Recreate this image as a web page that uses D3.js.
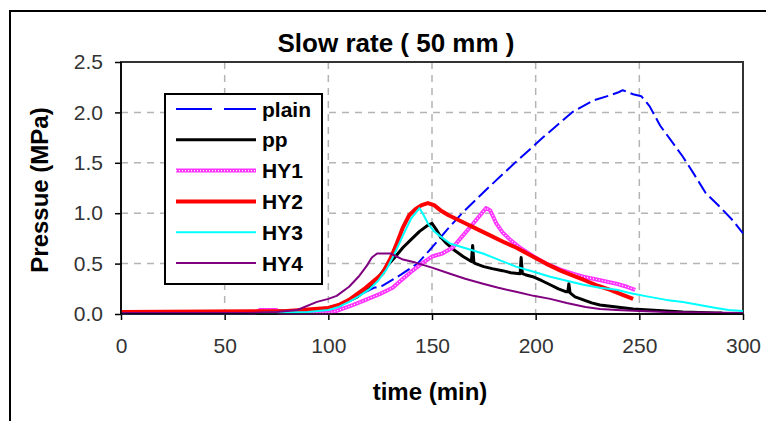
<!DOCTYPE html>
<html lang="en">
<head>
  <meta charset="utf-8">
  <title>Slow rate</title>
  <script src="https://d3js.org/d3.v7.min.js"></script>
  <style>
  body { margin: 0; background: #fff; }
  text { font-family: "Liberation Sans", Arial, sans-serif; }
  .tick text { font-size: 21px; fill: #333; }
  .tick line { stroke: #000; stroke-width: 1.5; }
  .domain { display: none; }
  .grid line { stroke: #b4b4b4; stroke-width: 1.5; stroke-dasharray: 7,6; }
  </style>
</head>
<body>
<script>
var width = 766;
var height = 421;

// data: time (min) and pressure (MPa) per series
var plainT = [0, 60, 90, 100, 106, 112, 118, 122, 126, 135, 143, 150, 157, 164.5, 177, 190, 204, 217.5, 228, 236, 240, 242, 247, 251, 255, 260, 265, 271, 276, 282, 289, 295, 300];
var plainP = [0.01, 0.01, 0.02, 0.04, 0.08, 0.15, 0.22, 0.26, 0.28, 0.39, 0.5, 0.66, 0.83, 1.0, 1.25, 1.5, 1.76, 2.0, 2.12, 2.17, 2.2, 2.22, 2.18, 2.16, 2.06, 1.87, 1.73, 1.56, 1.4, 1.2, 1.06, 0.93, 0.8];

var ppT = [0, 65, 66, 80, 90, 100, 105, 110, 114, 120, 124, 128, 132, 136, 140, 144, 148, 150, 152, 154, 157, 161, 165, 169, 169.6, 170.2, 171, 175, 179, 184, 188, 192.5, 193, 193.6, 195, 198.6, 203, 207, 211, 214.8, 215.5, 216, 216.6, 219, 223, 227, 231, 235, 239, 247, 255, 263, 271, 279, 287, 290];
var ppP = [0.01, 0.01, 0.03, 0.03, 0.04, 0.06, 0.09, 0.13, 0.17, 0.27, 0.36, 0.47, 0.56, 0.66, 0.74, 0.82, 0.88, 0.9, 0.84, 0.77, 0.7, 0.63, 0.57, 0.52, 0.68, 0.51, 0.5, 0.47, 0.45, 0.43, 0.41, 0.4, 0.56, 0.4, 0.39, 0.37, 0.33, 0.29, 0.25, 0.22, 0.22, 0.3, 0.21, 0.17, 0.14, 0.11, 0.09, 0.08, 0.07, 0.05, 0.04, 0.03, 0.02, 0.015, 0.01, 0.01];

var hy1T = [0, 65, 67, 75, 76, 100, 104, 108, 112, 118, 125, 131, 136, 140, 145, 150, 155, 160, 165, 170, 174, 176, 178, 181, 184, 188, 193, 199, 205, 212, 218, 223, 230, 239, 244, 248];
var hy1P = [0.01, 0.01, 0.04, 0.04, 0.01, 0.01, 0.03, 0.06, 0.09, 0.14, 0.2, 0.26, 0.35, 0.42, 0.5, 0.57, 0.6, 0.66, 0.78, 0.9, 1.0, 1.05, 1.03, 0.9, 0.81, 0.73, 0.65, 0.57, 0.5, 0.44, 0.4, 0.37, 0.34, 0.3, 0.27, 0.24];

var hy2T = [0, 80, 100, 105, 110, 114, 118, 122, 126, 130, 133, 136, 139, 142, 145, 148, 151, 154, 158, 162, 166, 172, 179, 185, 190.5, 198.6, 205, 212, 218, 223, 230, 236, 242, 247];
var hy2P = [0.02, 0.03, 0.06, 0.09, 0.14, 0.2, 0.26, 0.33, 0.4, 0.55, 0.7, 0.86, 0.98, 1.04, 1.08, 1.1, 1.08, 1.03, 0.98, 0.94, 0.9, 0.84, 0.77, 0.71, 0.66, 0.57, 0.5, 0.43, 0.38, 0.34, 0.28, 0.24, 0.19, 0.15];

var hy3T = [0, 60, 66, 90, 100, 105, 110, 115, 120, 124, 128, 132, 136, 140, 144, 146, 148, 151, 154, 158.7, 165, 174.6, 182, 190.5, 199, 207, 215, 223, 231, 239, 247, 255, 263, 271, 279, 287, 293, 300];
var hy3P = [0.005, 0.005, 0.01, 0.02, 0.04, 0.07, 0.12, 0.18, 0.25, 0.33, 0.44, 0.6, 0.78, 0.95, 1.05, 0.98, 0.9, 0.82, 0.77, 0.7, 0.66, 0.6, 0.54, 0.47, 0.42, 0.37, 0.33, 0.29, 0.26, 0.24, 0.2, 0.17, 0.14, 0.12, 0.09, 0.06, 0.04, 0.03];

var hy4T = [0, 60, 75, 85, 94.5, 100, 104, 110, 115, 118.6, 121, 123.5, 130, 136, 142, 150, 158.7, 166, 174.6, 182, 190.5, 199, 207, 215, 224, 231, 239, 250, 263, 280, 300];
var hy4P = [0.01, 0.01, 0.02, 0.04, 0.12, 0.15, 0.18, 0.27, 0.38, 0.48, 0.56, 0.6, 0.6, 0.54, 0.51, 0.46, 0.4, 0.35, 0.3, 0.26, 0.22, 0.18, 0.15, 0.11, 0.07, 0.05, 0.04, 0.03, 0.02, 0.015, 0.01];

var seriesNames = ["plain", "pp", "HY1", "HY2", "HY3", "HY4"];
var xTicks = [0, 50, 100, 150, 200, 250, 300];
var yTicks = [0, 0.5, 1.0, 1.5, 2.0, 2.5];

var series = [
  {name: "plain", t: plainT, p: plainP, color: "#0000ff", w: 2, dash: "14,5"},
  {name: "pp", t: ppT, p: ppP, color: "#000", w: 3},
  {name: "HY1", t: hy1T, p: hy1P, color: "#ff33ff", w: 4, dots: true},
  {name: "HY2", t: hy2T, p: hy2P, color: "#ff0000", w: 4},
  {name: "HY3", t: hy3T, p: hy3P, color: "#00ffff", w: 2},
  {name: "HY4", t: hy4T, p: hy4P, color: "#800080", w: 2}
];

var svg = d3.select("body")
  .append("svg")
  .attr("width", width)
  .attr("height", height);

// outer chart border (runs off the picture on right and bottom)
svg.append("path")
  .attr("d", "M10,430V11H780")
  .attr("fill", "none")
  .attr("stroke", "#000")
  .attr("stroke-width", 2);

var x = d3.scaleLinear().domain([0, 300]).range([121, 743]);
var y = d3.scaleLinear().domain([0, 2.5]).range([314, 62]);

// grid
var grid = svg.append("g").attr("class", "grid");
grid.selectAll(".gx")
  .data(xTicks.filter(function(d){ return d > 0 && d < 300; }))
  .enter().append("line")
  .attr("x1", function(d){ return x(d); })
  .attr("x2", function(d){ return x(d); })
  .attr("y1", y(2.5)).attr("y2", y(0));
grid.selectAll(".gy")
  .data(yTicks.filter(function(d){ return d > 0 && d < 2.5; }))
  .enter().append("line")
  .attr("y1", function(d){ return y(d); })
  .attr("y2", function(d){ return y(d); })
  .attr("x1", x(0)).attr("x2", x(300));

// plot frame
svg.append("rect")
  .attr("x", x(0)).attr("y", y(2.5))
  .attr("width", x(300) - x(0)).attr("height", y(0) - y(2.5))
  .attr("fill", "none")
  .attr("stroke", "#333")
  .attr("stroke-width", 2);

svg.append("g")
  .attr("transform", "translate(" + x(0) + ",0)")
  .call(d3.axisLeft(y).tickValues(yTicks).tickFormat(d3.format(".1f")).tickSize(6).tickPadding(12));

svg.append("g")
  .attr("transform", "translate(0," + y(0) + ")")
  .call(d3.axisBottom(x).tickValues(xTicks).tickSize(6).tickPadding(18));

var line = d3.line()
  .x(function(d){ return x(d[0]); })
  .y(function(d){ return y(d[1]); });

series.forEach(function(s){
  var pts = s.t.map(function(t, i){ return [t, s.p[i]]; });
  svg.append("path")
    .datum(pts)
    .attr("d", line)
    .attr("fill", "none")
    .attr("stroke", s.color)
    .attr("stroke-width", s.w)
    .attr("stroke-dasharray", s.dash || null)
    .attr("stroke-linejoin", "round");
  if (s.dots) {
    svg.append("path")
      .datum(pts)
      .attr("d", line)
      .attr("fill", "none")
      .attr("stroke", "#fff")
      .attr("stroke-width", 1.2)
      .attr("stroke-dasharray", "1,2");
  }
});

// axis x line on top of series
svg.append("line")
  .attr("x1", x(0)).attr("x2", x(300))
  .attr("y1", y(0)).attr("y2", y(0))
  .attr("stroke", "#000").attr("stroke-width", 1.5);
svg.append("line")
  .attr("x1", x(0)).attr("x2", x(0))
  .attr("y1", y(0)).attr("y2", y(2.5))
  .attr("stroke", "#000").attr("stroke-width", 1.5);

// legend
var lg = svg.append("g");
lg.append("rect")
  .attr("x", 165).attr("y", 94)
  .attr("width", 157).attr("height", 190)
  .attr("fill", "#fff")
  .attr("stroke", "#000")
  .attr("stroke-width", 2);
var ly = d3.scalePoint().domain(seriesNames).range([109, 263]);
series.forEach(function(s){
  var yy = ly(s.name);
  lg.append("line")
    .attr("x1", 176).attr("x2", 256)
    .attr("y1", yy).attr("y2", yy)
    .attr("stroke", s.color)
    .attr("stroke-width", s.w)
    .attr("stroke-dasharray", s.name === "plain" ? "36,12" : null);
  if (s.dots) {
    lg.append("line")
      .attr("x1", 176).attr("x2", 256)
      .attr("y1", yy).attr("y2", yy)
      .attr("stroke", "#fff").attr("stroke-width", 1.2)
      .attr("stroke-dasharray", "1,2");
  }
  lg.append("text")
    .attr("x", 262).attr("y", yy)
    .attr("dy", "0.36em")
    .style("font-size", "21px")
    .style("font-weight", "bold")
    .text(s.name);
});

// titles
svg.append("text")
  .attr("x", 396).attr("y", 52)
  .attr("text-anchor", "middle")
  .style("font-size", "26px")
  .style("font-weight", "bold")
  .text("Slow rate ( 50 mm )");

svg.append("text")
  .attr("x", 430).attr("y", 400)
  .attr("text-anchor", "middle")
  .style("font-size", "24px")
  .style("font-weight", "bold")
  .text("time (min)");

svg.append("text")
  .attr("transform", "translate(48,190) rotate(-90)")
  .attr("text-anchor", "middle")
  .style("font-size", "24px")
  .style("font-weight", "bold")
  .text("Pressue (MPa)");
</script>
</body>
</html>
